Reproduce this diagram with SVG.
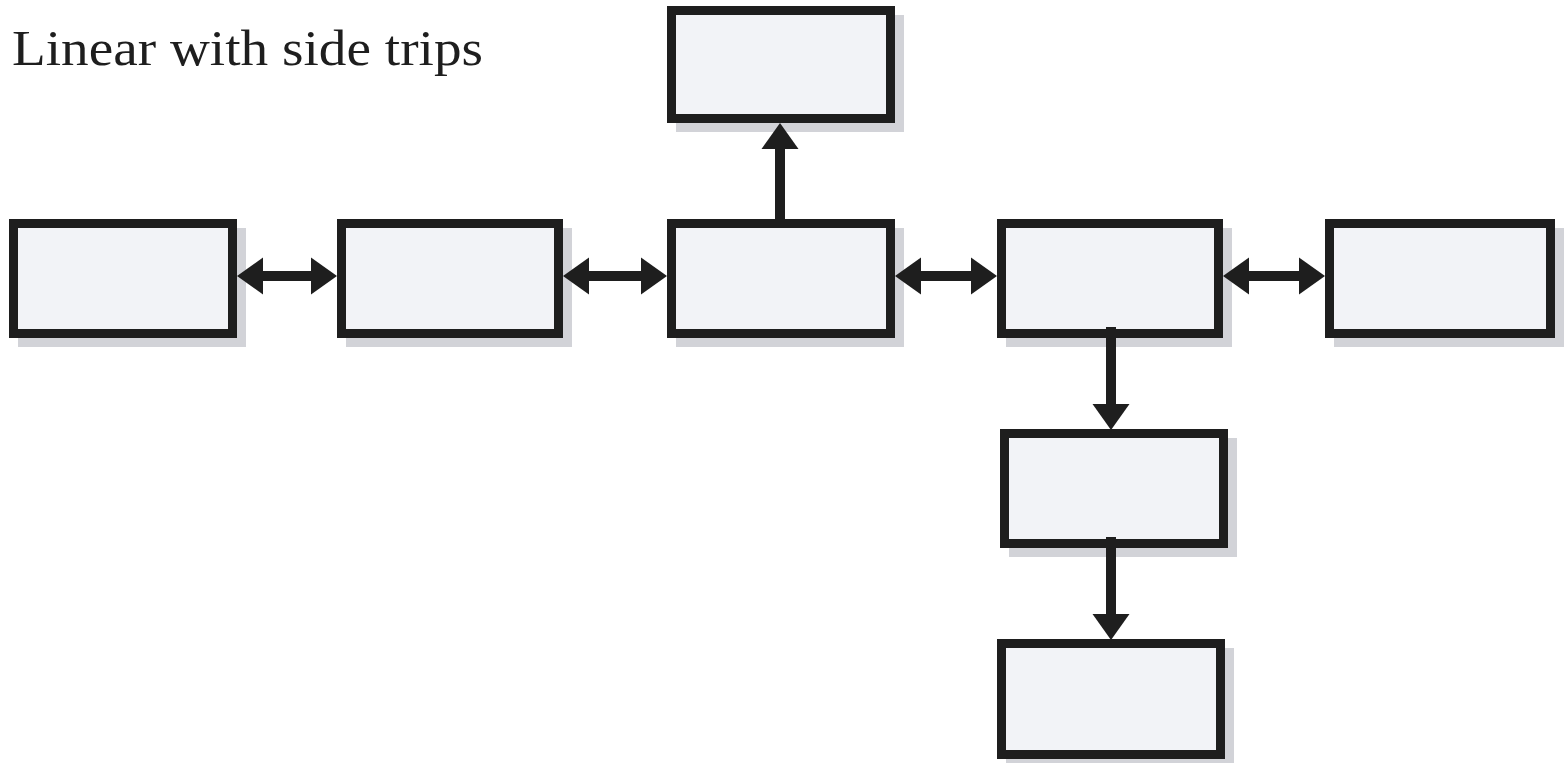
<svg xmlns="http://www.w3.org/2000/svg" width="1565" height="763" viewBox="0 0 1565 763">
<style>
.sh{fill:#d2d3d8}
.bx{fill:#f2f3f7;stroke:#1e1e1e;stroke-width:9}
.ln{stroke:#1e1e1e;stroke-width:10;fill:none}
.t{font-family:"Liberation Serif",serif;font-size:50px;fill:#1e1e1e}
</style>
<defs>
<marker id="ah" markerUnits="userSpaceOnUse" markerWidth="27" markerHeight="37" refX="0" refY="18.5" orient="auto-start-reverse" overflow="visible">
<path d="M-1,0 L25,18.5 L-1,37 Z" fill="#1e1e1e"/>
</marker>
</defs>
<rect width="1565" height="763" fill="#ffffff"/>
<text class="t" x="12" y="65" textLength="471" lengthAdjust="spacingAndGlyphs">Linear with side trips</text>
<g id="n1"><rect class="sh" x="18" y="228" width="228" height="119"/><rect class="bx" x="13.5" y="223.5" width="219" height="110"/></g>
<g id="n2"><rect class="sh" x="346" y="228" width="226" height="119"/><rect class="bx" x="341.5" y="223.5" width="217" height="110"/></g>
<g id="n3"><rect class="sh" x="676" y="228" width="228" height="119"/><rect class="bx" x="671.5" y="223.5" width="219" height="110"/></g>
<g id="n4"><rect class="sh" x="1006" y="228" width="226" height="119"/><rect class="bx" x="1001.5" y="223.5" width="217" height="110"/></g>
<g id="n5"><rect class="sh" x="1334" y="228" width="230" height="119"/><rect class="bx" x="1329.5" y="223.5" width="221" height="110"/></g>
<g id="nTop"><rect class="sh" x="676" y="15" width="228" height="117"/><rect class="bx" x="671.5" y="10.5" width="219" height="108"/></g>
<g id="n6"><rect class="sh" x="1009" y="438" width="228" height="119"/><rect class="bx" x="1004.5" y="433.5" width="219" height="110"/></g>
<g id="n7"><rect class="sh" x="1006" y="648" width="228" height="120"/><rect class="bx" x="1001.5" y="643.5" width="219" height="111"/></g>
<g id="connectors">
<line class="ln" x1="262" y1="276" x2="312" y2="276" marker-start="url(#ah)" marker-end="url(#ah)"/>
<line class="ln" x1="588" y1="276" x2="642" y2="276" marker-start="url(#ah)" marker-end="url(#ah)"/>
<line class="ln" x1="920" y1="276" x2="972" y2="276" marker-start="url(#ah)" marker-end="url(#ah)"/>
<line class="ln" x1="1248" y1="276" x2="1300" y2="276" marker-start="url(#ah)" marker-end="url(#ah)"/>
<line class="ln" x1="780" y1="220" x2="780" y2="148" marker-end="url(#ah)"/>
<line class="ln" x1="1111" y1="327" x2="1111" y2="405" marker-end="url(#ah)"/>
<line class="ln" x1="1111" y1="537" x2="1111" y2="615" marker-end="url(#ah)"/>
</g>
</svg>
